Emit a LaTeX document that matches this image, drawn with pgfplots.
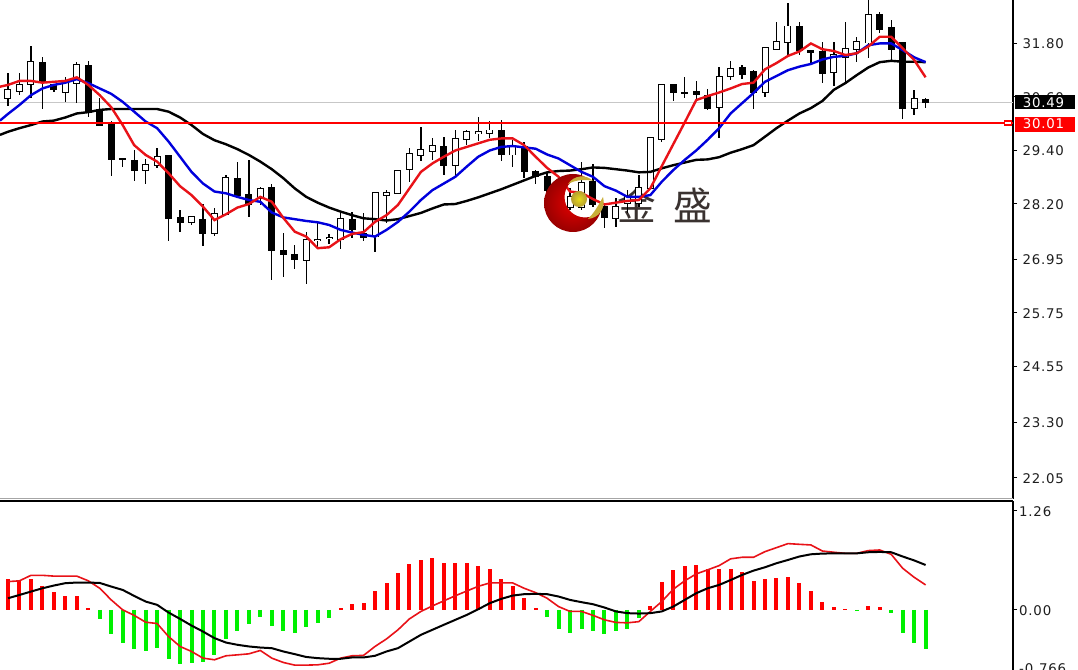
\documentclass[border=0pt]{standalone}
\usepackage{fontspec}
\usepackage{pgfplots}
\usepackage{pgfplotstable}
\pgfplotsset{compat=1.18}
\setmainfont{DejaVu Sans}
\newfontfamily\cjk{Noto Sans CJK SC}
\newfontfamily\scalefont[LetterSpace=6]{DejaVu Sans}
\definecolor{maRed}{HTML}{E81218}
\definecolor{maBlue}{HTML}{0000DC}
\definecolor{histGreen}{HTML}{00F000}
\definecolor{txt}{HTML}{1E1E1E}
\definecolor{gold}{HTML}{C8AE38}
\definecolor{logotext}{HTML}{3A3230}

% white candles: i open high low close
\pgfplotstableread{
i o h l c
-1 30.63 31.19 30.41 31.08
0 30.57 31.12 30.39 30.74
1 30.72 31.13 30.63 30.86
2 30.88 31.73 30.56 31.37
5 30.71 31.04 30.47 30.93
6 30.90 31.38 30.45 31.30
12 28.95 29.21 28.63 29.06
13 29.06 29.44 29.00 29.25
16 27.79 27.92 27.72 27.90
18 27.53 28.09 27.48 27.96
19 27.96 28.84 27.94 28.77
22 28.32 28.57 28.17 28.52
26 26.93 27.57 26.40 27.38
27 27.37 27.76 27.23 27.39
28 27.42 27.52 27.29 27.43
29 27.40 28.02 27.18 27.85
32 27.46 28.44 27.12 28.44
33 28.40 28.50 27.76 28.44
34 28.43 28.95 28.41 28.94
35 28.97 29.44 28.69 29.31
36 29.29 29.92 29.15 29.40
37 29.38 29.66 29.18 29.50
39 29.06 29.85 28.80 29.65
40 29.65 29.85 29.51 29.80
41 29.78 30.15 29.61 29.80
42 29.78 30.04 29.66 29.84
44 29.30 29.63 29.03 29.49
49 28.12 28.55 28.05 28.35
50 28.12 29.14 28.06 28.66
53 27.88 28.32 27.68 28.13
54 28.21 28.50 27.99 28.35
55 28.21 28.84 28.12 28.56
56 28.54 29.69 28.53 29.68
57 29.64 30.86 29.59 30.86
62 30.36 31.26 29.66 31.03
63 31.06 31.40 30.97 31.22
66 30.71 31.70 30.58 31.69
67 31.66 32.26 31.64 31.83
68 31.82 32.69 31.53 32.17
72 31.14 31.82 30.84 31.53
73 31.49 32.26 30.93 31.66
74 31.66 31.94 31.37 31.82
75 31.81 32.81 31.47 32.43
79 30.34 30.75 30.19 30.54
}\upcandles

% black candles
\pgfplotstableread{
i o h l c
3 31.37 31.48 30.33 30.91
4 30.86 30.88 30.70 30.75
7 31.30 31.40 30.13 30.24
8 30.30 30.56 29.96 29.96
9 29.98 30.06 28.82 29.18
10 29.21 29.21 29.03 29.19
11 29.16 29.40 28.71 28.93
14 29.27 29.27 27.37 27.87
15 27.88 28.06 27.56 27.77
17 27.85 28.18 27.26 27.53
20 28.77 29.14 28.35 28.39
21 28.41 29.18 27.89 28.17
23 28.57 28.65 26.49 27.14
24 27.14 27.53 26.56 27.06
25 27.07 27.26 26.73 26.95
30 27.85 28.02 27.42 27.61
31 27.52 27.98 27.35 27.43
38 29.47 29.70 28.84 29.06
43 29.85 30.07 29.15 29.30
45 29.47 29.57 28.77 28.91
46 28.91 28.95 28.64 28.80
47 28.80 28.91 28.46 28.49
48 28.66 28.80 28.23 28.32
51 28.69 29.09 28.12 28.17
52 28.13 28.21 27.65 27.89
58 30.86 30.87 30.50 30.69
59 30.69 31.04 30.56 30.66
60 30.71 30.95 30.52 30.65
61 30.62 30.76 30.30 30.32
64 31.25 31.31 30.99 31.10
65 31.16 31.19 30.31 30.69
69 32.17 32.26 31.53 31.64
70 31.64 31.65 31.35 31.59
71 31.62 31.82 30.90 31.12
76 32.43 32.49 32.02 32.11
77 32.15 32.32 31.38 31.66
78 31.82 31.82 30.09 30.34
80 30.54 30.57 30.34 30.47
}\downcandles

% moving averages
\pgfplotstableread{
i red blue black
-0.7 30.82 30.06 29.74
0 30.86 30.21 29.81
1 30.95 30.41 29.89
2 30.95 30.63 29.96
3 30.91 30.78 30.04
4 30.93 30.86 30.06
5 30.95 30.91 30.13
6 31.03 30.99 30.22
7 30.86 30.90 30.25
8 30.63 30.78 30.30
9 30.36 30.66 30.32
10 29.96 30.48 30.32
11 29.51 30.26 30.32
12 29.29 30.04 30.32
13 29.14 29.89 30.32
14 28.88 29.59 30.26
15 28.59 29.25 30.13
16 28.39 28.91 29.96
17 28.13 28.65 29.76
18 27.83 28.47 29.62
19 27.96 28.43 29.53
20 28.11 28.35 29.42
21 28.19 28.28 29.29
22 28.35 28.24 29.14
23 28.24 28.00 28.97
24 27.88 27.89 28.77
25 27.57 27.85 28.54
26 27.46 27.81 28.35
27 27.20 27.78 28.22
28 27.22 27.72 28.11
29 27.40 27.61 28.02
30 27.52 27.55 27.94
31 27.56 27.50 27.87
32 27.79 27.46 27.85
33 27.94 27.61 27.82
34 28.17 27.79 27.85
35 28.54 28.02 27.92
36 28.91 28.28 27.99
37 29.10 28.50 28.09
38 29.25 28.65 28.18
39 29.39 28.80 28.19
40 29.47 29.03 28.26
41 29.55 29.25 28.34
42 29.63 29.39 28.43
43 29.66 29.47 28.52
44 29.66 29.49 28.62
45 29.51 29.46 28.72
46 29.25 29.43 28.82
47 29.00 29.30 28.90
48 28.80 29.21 28.93
49 28.47 29.06 28.94
50 28.44 28.91 28.97
51 28.30 28.80 29.01
52 28.18 28.59 29.00
53 28.22 28.49 28.97
54 28.26 28.35 28.94
55 28.28 28.35 28.90
56 28.54 28.39 28.91
57 29.04 28.69 28.99
58 29.53 28.95 29.06
59 30.02 29.18 29.12
60 30.52 29.39 29.18
61 30.61 29.63 29.19
62 30.69 29.89 29.24
63 30.78 30.22 29.34
64 30.88 30.45 29.42
65 30.91 30.68 29.51
66 31.21 30.93 29.70
67 31.35 31.06 29.89
68 31.51 31.19 30.06
69 31.61 31.27 30.22
70 31.79 31.33 30.34
71 31.66 31.43 30.50
72 31.62 31.49 30.75
73 31.53 31.51 30.90
74 31.57 31.57 31.08
75 31.72 31.75 31.25
76 31.94 31.79 31.37
77 31.94 31.79 31.40
78 31.68 31.64 31.38
79 31.42 31.48 31.38
80 31.03 31.37 31.37
}\malines

% lower pane
\pgfplotstableread{
i hist macd signal
0 0.39 0.36 0.148
1 0.37 0.37 0.19
2 0.39 0.44 0.233
3 0.305 0.44 0.275
4 0.225 0.43 0.31
5 0.18 0.43 0.34
6 0.18 0.43 0.348
7 0.02 0.37 0.348
8 -0.12 0.275 0.343
9 -0.31 0.127 0.297
10 -0.42 0 0.254
11 -0.50 -0.07 0.178
12 -0.52 -0.157 0.106
13 -0.48 -0.174 0.064
14 -0.62 -0.34 -0.034
15 -0.69 -0.466 -0.115
16 -0.68 -0.53 -0.2
17 -0.67 -0.615 -0.276
18 -0.58 -0.636 -0.36
19 -0.37 -0.585 -0.416
20 -0.27 -0.573 -0.445
21 -0.18 -0.56 -0.466
22 -0.09 -0.517 -0.48
23 -0.20 -0.615 -0.488
24 -0.27 -0.67 -0.53
25 -0.30 -0.704 -0.564
26 -0.22 -0.704 -0.6
27 -0.17 -0.70 -0.615
28 -0.10 -0.68 -0.623
29 0.02 -0.615 -0.623
30 0.07 -0.585 -0.606
31 0.085 -0.58 -0.606
32 0.24 -0.466 -0.585
33 0.34 -0.37 -0.53
34 0.465 -0.254 -0.488
35 0.58 -0.115 -0.403
36 0.635 -0.02 -0.318
37 0.665 0.05 -0.254
38 0.595 0.115 -0.19
39 0.595 0.18 -0.127
40 0.595 0.24 -0.064
41 0.565 0.30 0.008
42 0.52 0.343 0.085
43 0.395 0.343 0.14
44 0.31 0.343 0.182
45 0.155 0.275 0.2
46 0.03 0.22 0.204
47 -0.09 0.148 0.2
48 -0.24 0.042 0.17
49 -0.30 -0.02 0.127
50 -0.24 -0.02 0.098
51 -0.27 -0.07 0.072
52 -0.31 -0.127 0.03
53 -0.27 -0.16 -0.02
54 -0.24 -0.165 -0.042
55 -0.10 -0.15 -0.047
56 0.055 -0.02 -0.042
57 0.35 0.106 -0.02
58 0.51 0.263 0.042
59 0.565 0.37 0.127
60 0.57 0.458 0.212
61 0.52 0.51 0.275
62 0.52 0.564 0.318
63 0.52 0.65 0.38
64 0.48 0.67 0.445
65 0.37 0.67 0.50
66 0.39 0.742 0.543
67 0.41 0.793 0.594
68 0.42 0.844 0.636
69 0.34 0.835 0.68
70 0.24 0.827 0.708
71 0.106 0.75 0.717
72 0.04 0.734 0.72
73 0.013 0.72 0.72
74 -0.008 0.72 0.72
75 0.055 0.755 0.734
76 0.034 0.763 0.738
77 -0.04 0.708 0.734
78 -0.30 0.53 0.68
79 -0.42 0.415 0.63
80 -0.50 0.318 0.572
}\macdtable

\pgfplotsset{
  pane/.style={
    scale only axis, width=759.75pt,
    xmin=-0.6975, xmax=87.62,
    axis x line=none, axis y line*=right,
    y axis line style={-, black, line width=0.9pt},
    ytick pos=right, tick align=outside,
    major tick length=3pt,
    tick style={black, line width=0.7pt},
    yticklabel style={anchor=west, yshift=-0.5pt, text=txt, font=\scalefont\fontsize{10}{12}\selectfont},
    clip=true,
  },
  stick/.style 2 args={draw=none, forget plot, error bars/.cd, y dir=both, y explicit, error mark=none,
    error bar style={solid, draw=#1, line width=#2}},
}

\begin{document}
\begin{tikzpicture}
\path[use as bounding box] (0,0) rectangle (808.5pt,502.5pt);

% lettering of the watermark sits under the chart
\begin{scope}[x=0.75pt, y=-0.75pt, shift={(0,-670)}]
  \node[text=logotext, font=\cjk\fontsize{29}{30}\selectfont] at (637,205) {金};
  \node[text=logotext, font=\cjk\fontsize{29}{30}\selectfont] at (693,205) {盛};
\end{scope}

\begin{axis}[pane, at={(0,128.25pt)}, anchor=south west, height=374.25pt,
    ymin=21.577, ymax=32.764,
    yticklabel style={xshift=0.6pt},
    ytick={31.80,30.60,29.40,28.20,26.95,25.75,24.55,23.30,22.05},
    yticklabels={31.80,30.60,29.40,28.20,26.95,25.75,24.55,23.30,22.05}]
  % price lines
  \addplot[forget plot, color=black!22, line width=0.8pt] coordinates {(-0.6975,30.46)(87.62,30.46)};
  % wicks
  \addplot[stick={black}{1pt}]
    table[x=i, y expr=(\thisrow{h}+\thisrow{l})/2, y error expr=(\thisrow{h}-\thisrow{l})/2] {\upcandles};
  \addplot[stick={black}{1pt}]
    table[x=i, y expr=(\thisrow{h}+\thisrow{l})/2, y error expr=(\thisrow{h}-\thisrow{l})/2] {\downcandles};
  % bodies
  \addplot[stick={black}{5.25pt}]
    table[x=i, y expr=(\thisrow{o}+\thisrow{c})/2, y error expr=abs(\thisrow{c}-\thisrow{o})/2+0.01] {\downcandles};
  \addplot[stick={black}{5.25pt}]
    table[x=i, y expr=(\thisrow{o}+\thisrow{c})/2, y error expr=abs(\thisrow{c}-\thisrow{o})/2+0.02] {\upcandles};
  \addplot[stick={white}{3.75pt}]
    table[x=i, y expr=(\thisrow{o}+\thisrow{c})/2, y error expr=abs(\thisrow{c}-\thisrow{o})/2] {\upcandles};
  % averages
  \addplot[black, line width=1.8pt] table[x=i, y=black] {\malines};
  \addplot[maBlue, line width=1.8pt] table[x=i, y=blue] {\malines};
  \addplot[maRed, line width=1.8pt] table[x=i, y=red] {\malines};
  \addplot[forget plot, color=red, line width=1.2pt] coordinates {(-0.6975,30.01)(87.62,30.01)};
\end{axis}

\begin{axis}[pane, at={(0,0)}, anchor=south west, height=126.75pt,
    ymin=-0.766, ymax=1.387,
    yticklabel style={xshift=-1.9pt},
    ytick={1.26,0,-0.766},
    yticklabels={1.26,0.00,\raisebox{3pt}{-0.766}}]
  \addplot[ycomb, red, line width=3pt, restrict y to domain=0:2] table[x=i, y=hist] {\macdtable};
  \addplot[ycomb, histGreen, line width=3pt, restrict y to domain=-2:0] table[x=i, y=hist] {\macdtable};
  \addplot[maRed, line width=1.2pt] table[x=i, y=macd] {\macdtable};
  \addplot[black, line width=1.5pt] table[x=i, y=signal] {\macdtable};
\end{axis}

% window furniture in picture pixels
\begin{scope}[x=0.75pt, y=-0.75pt, shift={(0,-670)}]
  \draw[black!35, line width=0.75pt] (0,498.8) -- (1013,498.8);
  \draw[black, line width=0.9pt] (0,501) -- (1013,501);
  \fill[black] (1015,95) rectangle (1075,109.5);
  \node[anchor=west, inner sep=0pt, text=white, font=\scalefont\fontsize{10}{12}\selectfont] at (1022.5,102.3) {30.49};
  \fill[red] (1015,116.7) rectangle (1075,131.7);
  \node[anchor=west, inner sep=0pt, text=white, font=\scalefont\fontsize{10}{12}\selectfont] at (1022.5,124) {30.01};
  \draw[red, line width=0.9pt, fill=white] (1004.5,121) rectangle (1011.5,125);
  % watermark disc, its cut-out leaves the chart visible
  \begin{scope}[even odd rule]
    \clip (530,160) rectangle (620,240) (585,197) circle (20.5);
    \shade[inner color=red!90!black, outer color=red!60!black] (573,203) circle (29);
  \end{scope}
  \fill[gold] (568,184) .. controls (574,175) and (586,174) .. (593,181)
    .. controls (585,179) and (575,180) .. (568,184);
  \fill[gold] (603,197) .. controls (606,208) and (599,218) .. (588,219)
    .. controls (594,213) and (598,206) .. (603,197);
  \shade[inner color=yellow!55!gold, outer color=gold!90!black] (579,199) circle (8);
\end{scope}
\end{tikzpicture}
\end{document}
